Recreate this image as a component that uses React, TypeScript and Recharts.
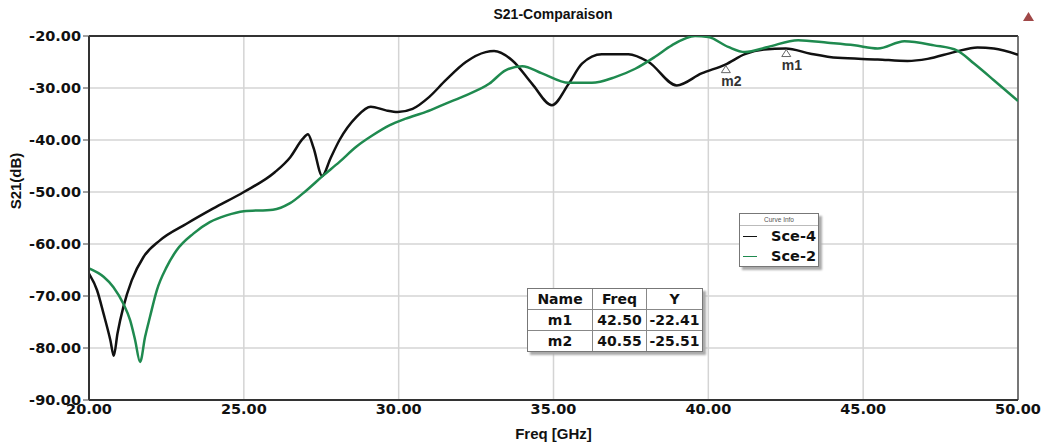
import * as React from "react";
import {
  LineChart,
  Line,
  XAxis,
  YAxis,
  CartesianGrid,
  ReferenceLine,
  ReferenceDot,
  Legend,
} from "recharts";

// Sce-4 (black)
const freqSce4 = [
  20.0, 20.26, 20.47, 20.69, 20.8, 20.92, 21.11, 21.38, 21.76, 22.29, 23.15,
  24.0, 25.0, 26.0, 26.5, 26.9, 27.07, 27.25, 27.53, 27.8, 28.09, 28.63, 29.1,
  29.59, 29.97, 30.45, 30.99, 31.52, 32.17, 32.81, 33.08, 33.67, 34.31, 34.95,
  35.49, 35.92, 36.56, 37.42, 38.07, 38.98, 39.78, 40.55, 41.18, 41.8, 42.5,
  43.3, 44.18, 45.47, 46.43, 47.08, 47.94, 48.69, 49.22, 50.0,
];
const s21Sce4 = [
  -65.7, -68.9, -73.4, -78.5, -81.5, -77.2, -72.1, -67, -62.5, -59.3, -56.1,
  -53.2, -50, -46.2, -43.3, -39.8, -38.9, -41.5, -46.9, -43.5, -40, -35.6,
  -33.6, -34.3, -34.6, -34.0, -31.7, -28.5, -25, -23.1, -22.9, -24.7, -29.2,
  -33.3, -29.2, -25.3, -23.5, -23.5, -25, -29.5, -27.2, -25.5, -23.5, -22.6,
  -22.4, -23.4, -24.2, -24.5, -24.8, -24.4, -23.1, -22.2, -22.4, -23.6,
];

// Sce-2 (green)
const freqSce2 = [
  20.0, 20.47, 20.79, 21.11, 21.33, 21.49, 21.65, 21.81, 21.97, 22.19, 22.51,
  22.83, 23.37, 23.9, 24.44, 25.0, 25.94, 26.48, 27.02, 27.55, 28.09, 28.63,
  29.16, 29.7, 30.23, 30.88, 31.52, 32.17, 32.92, 33.45, 33.99, 34.63, 35.49,
  36.24, 36.99, 37.64, 38.28, 38.82, 39.57, 40.0, 40.64, 41.18, 41.93, 42.9,
  43.86, 44.72, 45.47, 46.33, 47.29, 48.04, 48.58, 49.22, 50.0,
];
const s21Sce2 = [
  -64.7, -66.3, -68.3, -71.5, -74.7, -78.5, -82.7, -77.9, -74.0, -68.9, -64.4,
  -61.2, -58.0, -55.8, -54.5, -53.7, -53.4, -52.2, -49.7, -46.9, -44.2, -41.3,
  -39.1, -37.2, -35.9, -34.6, -33, -31.4, -29.2, -26.6, -25.8, -27.2, -29,
  -29, -27.9, -26.3, -24, -21.8, -20, -20.2, -22.1, -23.1, -22.1, -20.8, -21.3,
  -21.8, -22.4, -21, -21.8, -22.8, -25.3, -28.5, -32.5,
];

const freqTicks = [20, 25, 30, 35, 40, 45, 50];
const dbTicks = [-90, -80, -70, -60, -50, -40, -30, -20];
const freqMinorTicks = Array.from({ length: 31 }, (_, i) => 20 + i);
const dbMinorTicks = Array.from({ length: 36 }, (_, i) => -90 + i * 2);

const markerNames = ["m1", "m2"];
const markerFreq = [42.5, 40.55];
const markerDb = [-22.41, -25.51];

const series = [
  { name: "Sce-4", color: "#111111", freq: freqSce4, db: s21Sce4 },
  { name: "Sce-2", color: "#1f8a4f", freq: freqSce2, db: s21Sce2 },
];

const wideFont = "'DejaVu Sans', sans-serif";
const narrowFont = "'Liberation Sans', Arial, sans-serif";

const fmt = (v: number) => v.toFixed(2);

const MarkerShape = (props: any) => {
  const { cx, cy, name } = props;
  return (
    <g>
      <polygon
        points={`${cx - 4},${cy + 8} ${cx + 5},${cy + 8} ${cx + 0.5},${cy + 1}`}
        fill="none"
        stroke="#666"
        strokeWidth={1}
      />
      <text
        x={cx - 4}
        y={cy + 21}
        fontFamily={narrowFont}
        fontWeight="bold"
        fontSize={14}
        fill="#333"
      >
        {name}
      </text>
    </g>
  );
};

const CurveInfo = () => (
  <div
    style={{
      width: 78,
      height: 52,
      border: "1px solid #777",
      background: "#fff",
      boxShadow: "3px 3px 2px #aaa",
      fontFamily: wideFont,
      color: "#111",
    }}
  >
    <div
      style={{
        fontSize: 6.5,
        textAlign: "center",
        color: "#555",
        borderBottom: "1px solid #bbb",
        height: 11,
        lineHeight: "11px",
        fontFamily: narrowFont,
      }}
    >
      Curve Info
    </div>
    {series.map((s) => (
      <div
        key={s.name}
        style={{ display: "flex", alignItems: "center", height: 20 }}
      >
        <span
          style={{
            width: 14,
            height: 0,
            borderTop: `1.5px solid ${s.color}`,
            marginLeft: 3,
          }}
        />
        <span
          style={{
            marginLeft: "auto",
            marginRight: 2,
            fontWeight: "bold",
            fontSize: 14.5,
          }}
        >
          {s.name}
        </span>
      </div>
    ))}
  </div>
);

const cell = (w: number, last = false): React.CSSProperties => ({
  width: w,
  textAlign: "center",
  borderRight: last ? "none" : "1px solid #888",
  height: 20,
  lineHeight: "20px",
});

const MarkerTable = () => (
  <div
    style={{
      position: "absolute",
      left: 527,
      top: 288,
      width: 174,
      border: "1px solid #777",
      background: "#fff",
      boxShadow: "3px 3px 2px #aaa",
      fontFamily: wideFont,
      fontWeight: "bold",
      fontSize: 14,
      color: "#111",
    }}
  >
    {[["Name", "Freq", "Y"]]
      .concat(
        markerNames.map((n, i) => [n, fmt(markerFreq[i]), fmt(markerDb[i])])
      )
      .map((row, r) => (
        <div
          key={r}
          style={{
            display: "flex",
            borderTop: r === 0 ? "none" : "1px solid #888",
          }}
        >
          <div style={cell(64)}>{row[0]}</div>
          <div style={cell(53)}>{row[1]}</div>
          <div style={cell(55, true)}>{row[2]}</div>
        </div>
      ))}
  </div>
);

export default function App() {
  return (
    <div
      style={{
        position: "absolute",
        left: 0,
        top: 0,
        width: 1041,
        height: 445,
        background: "#fff",
      }}
    >
      <div
        style={{
          position: "absolute",
          left: 453,
          top: 6,
          width: 200,
          textAlign: "center",
          fontFamily: narrowFont,
          fontWeight: "bold",
          fontSize: 14,
          lineHeight: "16px",
          color: "#111",
        }}
      >
        S21-Comparaison
      </div>
      <svg
        width={11}
        height={10}
        style={{ position: "absolute", left: 1023, top: 12 }}
      >
        <polygon points="5.5,0 11,9 0,9" fill="#a04848" />
      </svg>
      <div
        style={{
          position: "absolute",
          left: 15,
          top: 181,
          transform: "translate(-50%, -50%) rotate(-90deg)",
          fontFamily: narrowFont,
          fontWeight: "bold",
          fontSize: 15,
          whiteSpace: "nowrap",
          color: "#111",
        }}
      >
        S21(dB)
      </div>
      <LineChart
        width={1041}
        height={445}
        margin={{ top: 36, right: 23, bottom: 0, left: 0 }}
        style={{ position: "absolute", left: 0, top: 0 }}
      >
        <CartesianGrid stroke="#d4d4d4" strokeWidth={1.5} />
        <YAxis
          yAxisId="minor"
          type="number"
          domain={[-90, -20]}
          allowDataOverflow
          ticks={dbMinorTicks}
          tick={false}
          tickSize={3}
          tickLine={{ stroke: "#444" }}
          axisLine={false}
          width={0}
        />
        <YAxis
          type="number"
          domain={[-90, -20]}
          allowDataOverflow
          ticks={dbTicks}
          tickFormatter={fmt}
          width={89}
          tickSize={6}
          tickMargin={2}
          tickLine={{ stroke: "#444" }}
          axisLine={{ stroke: "#333", strokeWidth: 2 }}
          tick={{
            fill: "#111",
            fontFamily: wideFont,
            fontWeight: "bold",
            fontSize: 14.5,
          }}
        />
        <XAxis
          xAxisId="minor"
          type="number"
          dataKey="f"
          domain={[20, 50]}
          allowDataOverflow
          ticks={freqMinorTicks}
          tick={false}
          mirror
          tickSize={4}
          tickLine={{ stroke: "#444" }}
          axisLine={false}
          height={0}
        />
        <XAxis
          type="number"
          dataKey="f"
          domain={[20, 50]}
          allowDataOverflow
          ticks={freqTicks}
          tickFormatter={fmt}
          height={45}
          tickSize={0}
          tickMargin={4}
          tickLine={false}
          axisLine={{ stroke: "#333", strokeWidth: 2 }}
          tick={{
            fill: "#111",
            fontFamily: wideFont,
            fontWeight: "bold",
            fontSize: 14.5,
          }}
          label={{
            value: "Freq [GHz]",
            position: "insideBottom",
            offset: 6,
            fill: "#111",
            fontFamily: narrowFont,
            fontWeight: "bold",
            fontSize: 15,
          }}
        />
        <ReferenceLine y={-20} stroke="#333" strokeWidth={2} />
        <ReferenceLine x={50} stroke="#555" strokeWidth={1.5} />
        {series.map((s) => (
          <Line
            key={s.name}
            name={s.name}
            data={s.freq.map((f, i) => ({ f, db: s.db[i] }))}
            dataKey="db"
            type="monotone"
            stroke={s.color}
            strokeWidth={2.5}
            dot={false}
            activeDot={false}
            isAnimationActive={false}
          />
        ))}
        {markerNames.map((n, i) => (
          <ReferenceDot
            key={n}
            x={markerFreq[i]}
            y={markerDb[i]}
            r={0}
            shape={(p: any) => <MarkerShape {...p} name={n} />}
          />
        ))}
        <Legend
          layout="horizontal"
          verticalAlign="middle"
          align="center"
          content={() => <CurveInfo />}
          wrapperStyle={{
            position: "absolute",
            left: 739,
            top: 213,
            width: 80,
            height: 54,
          }}
        />
      </LineChart>
      <MarkerTable />
    </div>
  );
}
